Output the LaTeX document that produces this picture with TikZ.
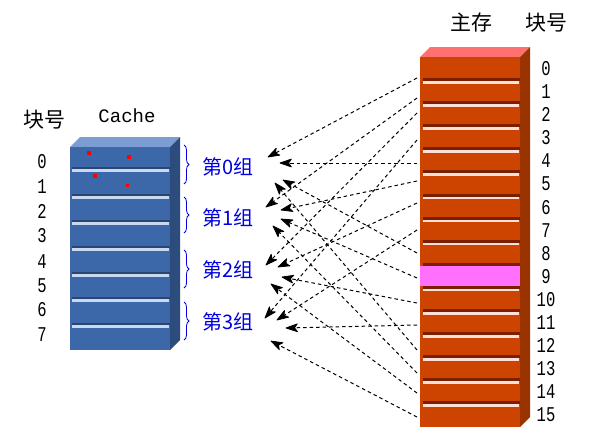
\documentclass[tikz,border=0pt]{standalone}
\usepackage{fontspec}
\newfontfamily\cjk{Noto Sans CJK SC}
\newfontfamily\mono{Liberation Mono}
\usetikzlibrary{decorations.pathreplacing,calc}
\newcommand\narrownum[1]{\scalebox{0.74}[1]{#1}}
\definecolor{cacheFront}{HTML}{3C68AA}
\definecolor{cacheTop}{HTML}{7C9CD4}
\definecolor{cacheSide}{HTML}{2B4C7C}
\definecolor{cacheDark}{HTML}{2A4670}
\definecolor{cacheLight}{HTML}{C8D8F0}
\definecolor{memFront}{HTML}{CC4400}
\definecolor{memTop}{HTML}{FF7070}
\definecolor{memSide}{HTML}{993300}
\definecolor{memDark}{HTML}{7A2000}
\definecolor{memLight}{HTML}{FFE0D8}
\definecolor{memPink}{HTML}{FF70FF}
\definecolor{grpBlue}{HTML}{0000E0}
\begin{document}
\begin{tikzpicture}[x=1pt,y=-1pt,
  cjktext/.style={inner sep=0pt,font=\cjk\fontsize{21}{24}\selectfont},
  numtext/.style={inner sep=0pt,font=\mono\fontsize{21}{24}\selectfont},
  grouptext/.style={inner sep=0pt,text=grpBlue,font=\cjk\fontsize{20}{24}\selectfont},
  grpbrace/.style={draw=grpBlue,line width=0.8pt,decorate,decoration={brace,amplitude=5pt}},
  arrline/.style={draw=black,line width=1pt,dash pattern=on 3.5pt off 3pt},
  arrhead/.style={fill=black,draw=black,line width=0.8pt,line join=round},
  reddot/.style={fill=red,draw=none}
]
\useasboundingbox (0,0) rectangle (596,429);

% ---------- Cache ----------
\fill[cacheTop] (70,147) -- (80,137) -- (180,137) -- (170,147) -- cycle;
\fill[cacheSide] (170,147) -- (180,137) -- (180,340) -- (170,350) -- cycle;
\fill[cacheFront] (70,147) rectangle (170,350);
\foreach \yd in {170,197,223,249,275,300,326}{
  \fill[cacheDark] (72,\yd-3) rectangle (170,\yd-0.8);
  \fill[cacheLight] (72,\yd-0.8) rectangle (169,\yd+1.6);
}
\fill[reddot] (87,151) rectangle (91,155);
\fill[reddot] (127,155) rectangle (131,159);
\fill[reddot] (93,174) rectangle (97,178);
\fill[reddot] (125.5,183.5) rectangle (128.5,186.5);

\node[cjktext] (lblL) at (44,120) {块号};
\node[inner sep=0pt,font=\mono\fontsize{19}{22}\selectfont] (lblC) at (127,116) {Cache};
\foreach \i/\y in {0/162,1/187,2/211,3/236,4/262,5/286,6/310,7/335}{
  \node[numtext] (cn\i) at (42,\y) {\narrownum{\i}};
}

% ---------- Groups ----------
\draw[grpbrace] (184,145) -- (184,184);
\draw[grpbrace] (184,197) -- (184,233);
\draw[grpbrace] (184,250) -- (184,288);
\draw[grpbrace] (184,302) -- (184,340);
\node[grouptext] (g0) at (228,167) {第0组};
\node[grouptext] (g1) at (228,218) {第1组};
\node[grouptext] (g2) at (228,270) {第2组};
\node[grouptext] (g3) at (228,322) {第3组};

% ---------- Main memory ----------
\fill[memTop] (420,57) -- (430,47) -- (530,47) -- (520,57) -- cycle;
\fill[memSide] (520,57) -- (530,47) -- (530,417) -- (520,427) -- cycle;
\fill[memFront] (420,57) rectangle (520,427);
\foreach \k in {0,...,14}{
  \pgfmathsetmacro{\yd}{82+23.1*\k}
  \fill[memDark] (423,\yd-4) rectangle (520,\yd-1);
  \fill[memLight] (423,\yd-1) rectangle (519,\yd+1.5);
}
\fill[memPink] (420,265.8) rectangle (520,286.2);

\node[cjktext] (lblM) at (471,23) {主存};
\node[cjktext] (lblR) at (546,23) {块号};
\foreach \i in {0,...,15}{
  \node[numtext] (mn\i) at (546,68.5+23.1*\i) {\narrownum{\i}};
}

% ---------- Connectors ----------
\foreach \i/\y in {0/78,1/98,2/113,3/140,4/163,5/181,6/203,7/230,8/253,9/278,10/303,11/325,12/350,13/373,14/393,15/417}{
  \coordinate (s\i) at (417,\y);
}
\coordinate (t0) at (268,157);  \coordinate (t4) at (280,163);
\coordinate (t8) at (283,180);  \coordinate (t12) at (275,183);
\coordinate (t1) at (266,207);  \coordinate (t5) at (281,210);
\coordinate (t9) at (281,219);  \coordinate (t13) at (273,226);
\coordinate (t2) at (266,265);  \coordinate (t6) at (278,267);
\coordinate (t10) at (282,277); \coordinate (t14) at (271,284);
\coordinate (t3) at (265,318);  \coordinate (t7) at (277,320);
\coordinate (t11) at (286,328); \coordinate (t15) at (271,341);
\foreach \i in {0,...,15}{
  \draw[arrline] (s\i) -- ($(t\i)!8pt!(s\i)$);
  \filldraw[arrhead] (t\i) -- ($(t\i)!12pt!19:(s\i)$) -- ($(t\i)!8.5pt!(s\i)$)
     -- ($(t\i)!12pt!-19:(s\i)$) -- cycle;
}
\end{tikzpicture}
\end{document}
